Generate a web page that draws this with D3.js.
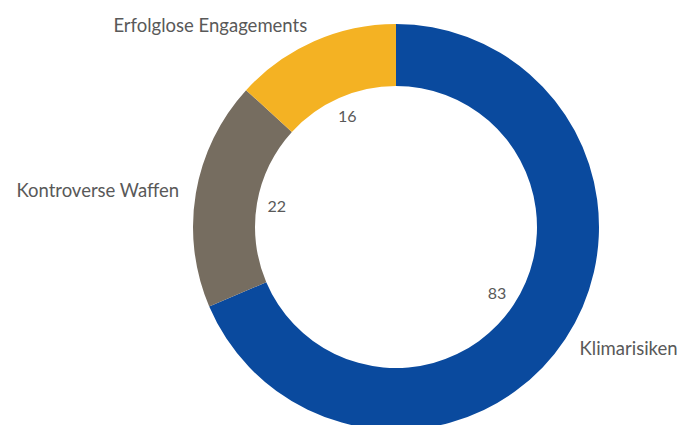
<!DOCTYPE html>
<html>
<head>
<meta charset="utf-8">
<script src="https://cdnjs.cloudflare.com/ajax/libs/d3/7.8.5/d3.min.js"></script>
<style>
  body { margin: 0; background: #fff; }
  text { font-family: Lato, "Open Sans", sans-serif; fill: #595959; }
</style>
</head>
<body>
<div id="chart"></div>
<script>
var categories = ["Klimarisiken", "Kontroverse Waffen", "Erfolglose Engagements"];
var values = [83, 22, 16];
var colors = ["#0a4a9e", "#766d60", "#f4b223"];

var width = 680,
    height = 425,
    cx = 396,
    cy = 227,
    outerRadius = 203,
    innerRadius = 141;

var data = categories.map(function(c, i) {
    return { name: c, value: values[i], color: colors[i] };
});

/* SVG */
var svg = d3.select("#chart")
    .append("svg")
        .attr("width", width)
        .attr("height", height);

var main = svg.append("g")
    .attr("transform", "translate(" + cx + "," + cy + ")");

/* Pie */
var pie = d3.pie()
    .sort(null)
    .value(function(d) { return d.value; });

var arc = d3.arc()
    .innerRadius(innerRadius)
    .outerRadius(outerRadius);

var valueArc = d3.arc()
    .innerRadius(121)
    .outerRadius(121);

var labelArc = d3.arc()
    .innerRadius(220)
    .outerRadius(220);

var arcs = pie(data);

main.selectAll("path")
    .data(arcs)
    .enter()
    .append("path")
        .attr("d", arc)
        .attr("fill", function(d) { return d.data.color; });

// values inside the ring
main.selectAll(".value")
    .data(arcs)
    .enter()
    .append("text")
        .attr("class", "value")
        .attr("transform", function(d) { return "translate(" + valueArc.centroid(d) + ")"; })
        .attr("text-anchor", "middle")
        .attr("dy", "0.35em")
        .style("font-size", "16px")
        .text(function(d) { return d.data.value; });

// category labels outside
main.selectAll(".label")
    .data(arcs)
    .enter()
    .append("text")
        .attr("class", "label")
        .attr("transform", function(d) { return "translate(" + labelArc.centroid(d) + ")"; })
        .attr("text-anchor", function(d) {
            return (d.startAngle + d.endAngle) / 2 < Math.PI ? "start" : "end";
        })
        .attr("dy", "0.35em")
        .style("font-size", "18.5px")
        .text(function(d) { return d.data.name; });
</script>
</body>
</html>
